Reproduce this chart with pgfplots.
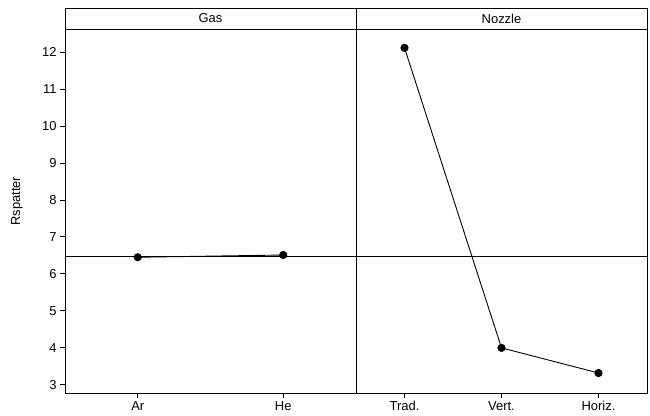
\documentclass[border=0pt]{standalone}
\usepackage{fontspec}
\setmainfont{Liberation Sans}
\usepackage{pgfplots}
\usepackage{pgfplotstable}
\pgfplotsset{compat=1.18}
\usepgfplotslibrary{groupplots}

% Main effects means for Rspatter
\pgfplotstableread{
pos Rspatter
1 6.45
2 6.51
}\gasdata
\pgfplotstableread{
pos Rspatter
1 12.11
2 4.00
3 3.32
}\nozzledata
\def\grandmean{6.48}

\begin{document}
\begin{tikzpicture}[font=\fontsize{13}{15}\selectfont]
\begin{groupplot}[
  group style={group size=2 by 1, horizontal sep=0pt},
  width=291bp, height=364bp, scale only axis,
  ymin=2.78, ymax=12.62,
  clip=false,
  tick align=outside, tick pos=left,
  major tick length=5bp,
  tick style={line width=0.8bp, black},
  axis line style={line width=0.9bp},
  tick label style={font=\fontsize{13}{15}\selectfont},
  label style={font=\fontsize{13}{15}\selectfont},
  /pgf/number format/assume math mode=true,
  every axis plot/.append style={line width=0.9bp, black},
]
\nextgroupplot[
  xmin=0.5, xmax=2.5,
  xtick={1,2}, xticklabels={Ar,He},
  ytick={3,4,...,12},
  ylabel=Rspatter,
  ylabel style={at={(axis description cs:-0.165,0.527)}, anchor=center},
]
\addplot[line width=0.8bp, no marks] coordinates {(0.5,\grandmean) (2.5,\grandmean)};
\addplot[mark=*, mark size=3.6bp] table[x=pos, y=Rspatter] {\gasdata};
\draw[line width=0.9bp] (rel axis cs:0,1) rectangle ([yshift=21bp]rel axis cs:1,1);
\node at ([yshift=10.5bp]rel axis cs:0.5,1) {Gas};

\nextgroupplot[
  xmin=0.5, xmax=3.5,
  xtick={1,2,3}, xticklabels={Trad.,Vert.,Horiz.},
  ytick=\empty,
]
\addplot[line width=0.8bp, no marks] coordinates {(0.5,\grandmean) (3.5,\grandmean)};
\addplot[mark=*, mark size=3.6bp] table[x=pos, y=Rspatter] {\nozzledata};
\draw[line width=0.9bp] (rel axis cs:0,1) rectangle ([yshift=21bp]rel axis cs:1,1);
\node at ([yshift=10.5bp]rel axis cs:0.5,1) {Nozzle};
\end{groupplot}
\path (group c1r1.south west) ++(-65bp,-23bp) rectangle ++(650bp,416bp);
\end{tikzpicture}
\end{document}
